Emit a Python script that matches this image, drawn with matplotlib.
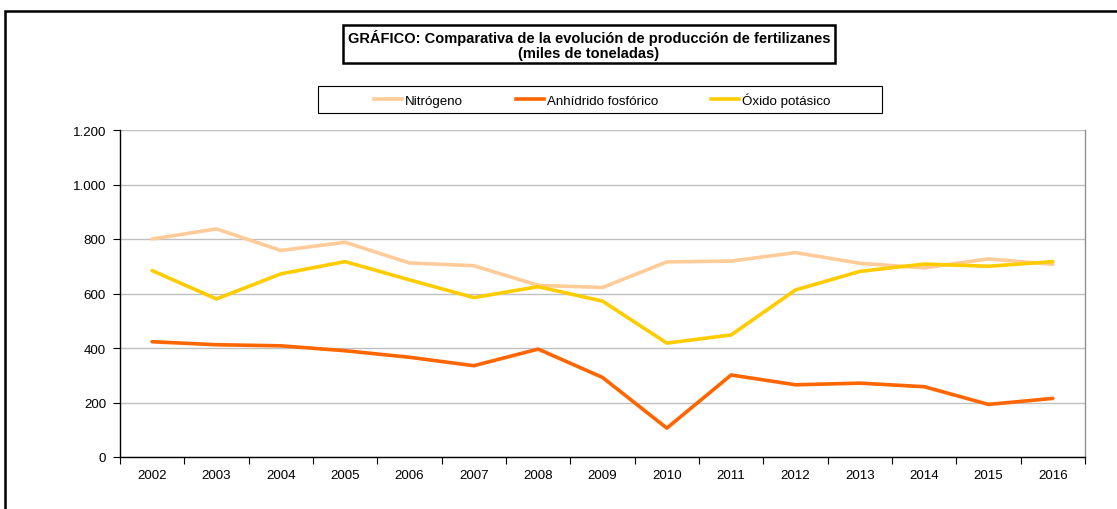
import matplotlib
matplotlib.use("Agg")
import matplotlib.pyplot as plt
from matplotlib.patches import Rectangle
from matplotlib.lines import Line2D
from matplotlib.ticker import FuncFormatter, FixedLocator

plt.rcParams['font.family'] = ['Liberation Sans', 'DejaVu Sans']

years = ["2002", "2003", "2004", "2005", "2006", "2007", "2008", "2009",
         "2010", "2011", "2012", "2013", "2014", "2015", "2016"]
nitrogeno = [800, 837, 758, 788, 712, 702, 630, 622, 716, 719, 750, 711, 694, 727, 707]
anhidrido = [423, 412, 408, 390, 366, 335, 396, 292, 106, 301, 265, 271, 258, 193, 215]
oxido = [684, 580, 672, 717, 650, 585, 625, 572, 418, 448, 613, 681, 708, 700, 717]
series_names = ["Nitrógeno", "Anhídrido fosfórico", "Óxido potásico"]
colors = ["#FFCC99", "#FF6600", "#FFCC00"]

W, H = 1117, 510
fig = plt.figure(figsize=(W / 100, H / 100), dpi=100)

def fx(px):
    return px / W

def fy(py):
    return 1 - py / H

FS = 9.6
LW = 2.6

# outer border
fig.patches.append(Rectangle((fx(5), fy(530)), fx(1140) - fx(5), fy(12) - fy(530),
                             transform=fig.transFigure, fill=False, edgecolor="black",
                             linewidth=1.8, zorder=0))

ax = fig.add_axes([fx(120), fy(458), fx(1085) - fx(120), fy(131) - fy(458)])
x = list(range(len(years)))
for vals, c, name in zip([nitrogeno, anhidrido, oxido], colors, series_names):
    ax.plot(x, vals, color=c, linewidth=LW, label=name, solid_capstyle="round",
            solid_joinstyle="round", zorder=3)

ax.set_xlim(-0.5, len(years) - 0.5)
ax.set_ylim(0, 1200)
ax.set_yticks(range(0, 1201, 200))
ax.yaxis.set_major_formatter(FuncFormatter(lambda v, p: f"{int(v):,}".replace(",", ".")))
ax.yaxis.grid(True, color="#c0c0c0", linewidth=1.0, zorder=0)
ax.set_axisbelow(True)

ax.set_xticks(x)
ax.set_xticklabels(years)
ax.xaxis.set_minor_locator(FixedLocator([i - 0.5 for i in range(len(years) + 1)]))
ax.tick_params(axis="x", which="major", length=0, pad=9, labelsize=FS)
ax.tick_params(axis="x", which="minor", length=5, width=0.8, direction="out")
ax.tick_params(axis="y", length=5, width=0.8, direction="out", labelsize=FS, pad=5)

ax.spines["top"].set_visible(False)
ax.spines["right"].set_color("#909090")
ax.spines["right"].set_linewidth(1.0)
ax.spines["left"].set_linewidth(1.0)
ax.spines["bottom"].set_linewidth(1.0)

# title box
fig.patches.append(Rectangle((fx(343), fy(64)), fx(835) - fx(343), fy(26) - fy(64),
                             transform=fig.transFigure, fill=False, edgecolor="black",
                             linewidth=1.8))
fig.text(fx(589), fy(45.5), "GRÁFICO: Comparativa de la evolución de producción de fertilizanes\n(miles de toneladas)",
         ha="center", va="center", fontsize=10.5, fontweight="bold", linespacing=1.15)

# legend box
fig.patches.append(Rectangle((fx(318), fy(114)), fx(882) - fx(318), fy(87) - fy(114),
                             transform=fig.transFigure, fill=False, edgecolor="black",
                             linewidth=0.8))
handles = [Line2D([], [], color=c, linewidth=LW) for c in colors]
fig.legend(handles, series_names, loc="center", bbox_to_anchor=(fx(602), fy(100.5)),
           ncol=3, frameon=False, fontsize=FS, handlelength=2.1, handletextpad=0.2,
           columnspacing=4.0)

fig.savefig("out.png", dpi=100)
